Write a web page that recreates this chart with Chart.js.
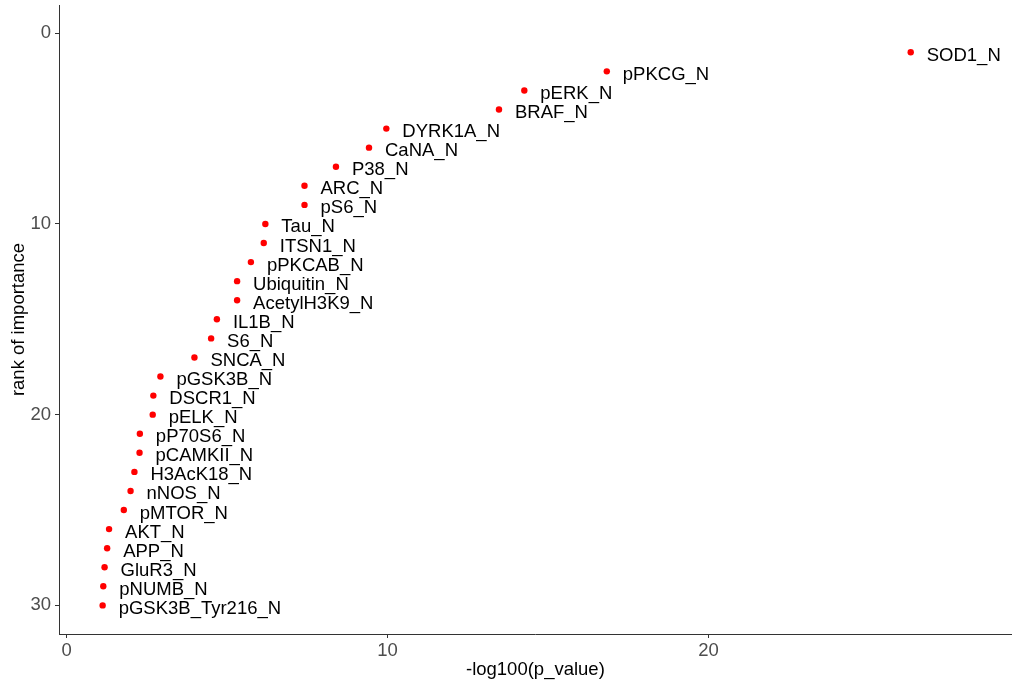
<!DOCTYPE html>
<html>
<head>
<meta charset="utf-8">
<script src="https://cdn.jsdelivr.net/npm/chart.js@4"></script>
<style>
  body { margin: 0; background: #ffffff; }
  canvas { display: block; }
</style>
</head>
<body>
<canvas id="myChart" width="1015" height="688"></canvas>
<script>
const features = ['SOD1_N', 'pPKCG_N', 'pERK_N', 'BRAF_N', 'DYRK1A_N', 'CaNA_N', 'P38_N', 'ARC_N', 'pS6_N', 'Tau_N',
    'ITSN1_N', 'pPKCAB_N', 'Ubiquitin_N', 'AcetylH3K9_N', 'IL1B_N', 'S6_N', 'SNCA_N', 'pGSK3B_N', 'DSCR1_N', 'pELK_N',
    'pP70S6_N', 'pCAMKII_N', 'H3AcK18_N', 'nNOS_N', 'pMTOR_N', 'AKT_N', 'APP_N', 'GluR3_N', 'pNUMB_N', 'pGSK3B_Tyr216_N'];
const negLogP = [26.3, 16.83, 14.26, 13.47, 9.96, 9.42, 8.39, 7.41, 7.41, 6.19,
    6.14, 5.74, 5.31, 5.31, 4.68, 4.50, 3.98, 2.92, 2.70, 2.68,
    2.28, 2.27, 2.11, 1.99, 1.78, 1.32, 1.26, 1.18, 1.14, 1.12];
const ranks = [1, 2, 3, 4, 5, 6, 7, 8, 9, 10,
    11, 12, 13, 14, 15, 16, 17, 18, 19, 20,
    21, 22, 23, 24, 25, 26, 27, 28, 29, 30];
const xTicks = [0, 10, 20];
const yTicks = [0, 10, 20, 30];

const FONT = '"Liberation Sans", Arial, sans-serif';

// writes the feature name next to each point
const pointLabels = {
    id: 'pointLabels',
    afterDatasetsDraw(chart) {
        const ctx = chart.ctx;
        const meta = chart.getDatasetMeta(0);
        ctx.save();
        ctx.font = '18.5px ' + FONT;
        ctx.fillStyle = '#000000';
        ctx.textAlign = 'left';
        ctx.textBaseline = 'alphabetic';
        meta.data.forEach((pt, i) => {
            ctx.fillText(features[i], pt.x + 16, pt.y + 8.5);
        });
        ctx.restore();
    }
};

document.addEventListener("DOMContentLoaded", function() {
    const ctx = document.getElementById('myChart').getContext('2d');
    new Chart(ctx, {
        type: 'scatter',
        data: {
            datasets: [{
                data: negLogP.map((v, i) => ({ x: v, y: ranks[i] })),
                backgroundColor: '#ff0000',
                borderWidth: 0,
                pointRadius: 3.2,
                pointHoverRadius: 3.2
            }]
        },
        options: {
            responsive: false,
            animation: false,
            layout: { padding: { top: 5, right: 0, left: 0, bottom: 0 } },
            plugins: {
                legend: { display: false },
                tooltip: { enabled: false }
            },
            scales: {
                x: {
                    type: 'linear',
                    min: -0.24,
                    max: 29.45,
                    afterBuildTicks: (s) => { s.ticks = xTicks.map(v => ({ value: v })); },
                    afterFit: (s) => { s.height = 54; s.paddingLeft = 0; s.paddingRight = 0; },
                    grid: { display: true, drawOnChartArea: false, drawTicks: true, tickLength: 4, color: '#333333' },
                    border: { display: true, color: '#333333', width: 1 },
                    ticks: { color: '#4d4d4d', font: { family: FONT, size: 18.5 }, padding: 2 },
                    title: { display: true, text: '-log100(p_value)', color: '#000000',
                        font: { family: FONT, size: 18.5 }, padding: { top: 0, bottom: 7 } }
                },
                y: {
                    type: 'linear',
                    reverse: true,
                    min: -1.48,
                    max: 31.5,
                    afterBuildTicks: (s) => { s.ticks = yTicks.map(v => ({ value: v })); },
                    afterFit: (s) => { s.width = 59; s.paddingTop = 0; s.paddingBottom = 0; },
                    grid: { display: true, drawOnChartArea: false, drawTicks: true, tickLength: 4, color: '#333333' },
                    border: { display: true, color: '#333333', width: 1 },
                    ticks: { color: '#4d4d4d', font: { family: FONT, size: 18.5 }, padding: 4 },
                    title: { display: true, text: 'rank of importance', color: '#000000',
                        font: { family: FONT, size: 18.5 }, padding: { top: 8, bottom: 0 } }
                }
            }
        },
        plugins: [pointLabels]
    });
});
</script>
</body>
</html>
